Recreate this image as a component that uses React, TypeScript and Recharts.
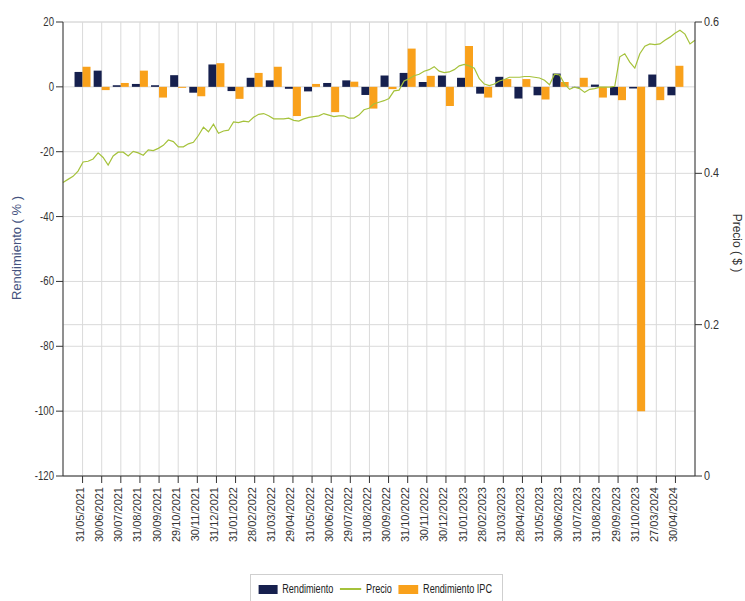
import React from 'react'
import { ComposedChart, Bar, Line, XAxis, YAxis, CartesianGrid } from 'recharts'

const categories = [
  '31/05/2021', '30/06/2021', '30/07/2021', '31/08/2021', '30/09/2021', '29/10/2021',
  '30/11/2021', '31/12/2021', '31/01/2022', '28/02/2022', '31/03/2022', '29/04/2022',
  '31/05/2022', '30/06/2022', '29/07/2022', '31/08/2022', '30/09/2022', '31/10/2022',
  '30/11/2022', '30/12/2022', '31/01/2023', '28/02/2023', '31/03/2023', '28/04/2023',
  '31/05/2023', '30/06/2023', '31/07/2023', '31/08/2023', '29/09/2023', '31/10/2023',
  '27/03/2024', '30/04/2024',
]

const rendimiento = [
  4.6, 5.0, 0.5, 0.9, 0.5, 3.6, -1.8, 6.9, -1.3, 2.8, 2.0, -0.6, -1.4, 1.2, 2.0, -2.5,
  3.5, 4.3, 1.5, 3.5, 2.8, -2.1, 3.1, -3.6, -2.6, 4.1, -0.2, 0.7, -2.6, -0.5, 3.8, -2.6,
]

const rendimientoIPC = [
  6.2, -1.0, 1.2, 5.0, -3.3, -0.3, -2.9, 7.3, -3.7, 4.3, 6.2, -9.0, 0.9, -7.8, 1.6, -6.7,
  -0.7, 11.8, 3.4, -5.9, 12.6, -3.3, 2.4, 2.4, -3.9, 1.5, 2.8, -3.3, -4.1, -100, -4.1, 6.5,
]

// daily price at even steps across the period
const precio = [
  0.388, 0.392, 0.396, 0.403, 0.415, 0.416, 0.419, 0.427, 0.421, 0.411, 0.423, 0.428,
  0.428, 0.423, 0.429, 0.427, 0.424, 0.431, 0.430, 0.433, 0.437, 0.444, 0.442, 0.435,
  0.435, 0.439, 0.441, 0.450, 0.461, 0.455, 0.465, 0.453, 0.456, 0.457, 0.468, 0.467,
  0.469, 0.468, 0.474, 0.478, 0.479, 0.476, 0.472, 0.472, 0.472, 0.473, 0.470, 0.469,
  0.472, 0.474, 0.475, 0.476, 0.479, 0.477, 0.475, 0.476, 0.476, 0.473, 0.473, 0.477,
  0.484, 0.486, 0.492, 0.494, 0.496, 0.499, 0.509, 0.510, 0.522, 0.525, 0.529, 0.531,
  0.535, 0.537, 0.541, 0.535, 0.533, 0.534, 0.537, 0.542, 0.544, 0.542, 0.539, 0.525,
  0.518, 0.516, 0.518, 0.522, 0.524, 0.527, 0.527, 0.527, 0.528, 0.528, 0.527, 0.526,
  0.523, 0.517, 0.531, 0.530, 0.518, 0.511, 0.514, 0.512, 0.507, 0.511, 0.512, 0.514,
  0.514, 0.514, 0.515, 0.554, 0.558, 0.547, 0.539, 0.558, 0.568, 0.571, 0.570, 0.571,
  0.576, 0.580, 0.585, 0.589, 0.584, 0.571, 0.576,
]

const leftTicks = [-120, -100, -80, -60, -40, -20, 0, 20]
const rightTicks = [0, 0.2, 0.4, 0.6]

const NAVY = '#16204e'
const ORANGE = '#f9a11b'
const GREEN = '#a5c23b'
const FONT = "'Liberation Sans', Arial, sans-serif"

const barData = categories.map((c, i) => ({
  fecha: c,
  rend: rendimiento[i],
  ipc: rendimientoIPC[i],
}))
const priceData = precio.map((p, i) => ({ t: i, precio: p }))

function DateTick(props: any) {
  const { x, y, payload } = props
  return (
    <text
      x={x}
      y={y}
      dy={1.5}
      transform={`rotate(-90 ${x} ${y})`}
      textAnchor="end"
      fontSize={11}
      fontFamily={FONT}
      fill="#333"
    >
      {payload.value}
    </text>
  )
}

// the source renders its value labels narrow, squeeze them a bit
function NarrowTick(props: any) {
  const { x, y, payload, textAnchor, sx } = props
  return (
    <text
      x={x}
      y={y}
      dy={4}
      textAnchor={textAnchor}
      transform={`translate(${x} 0) scale(${sx} 1) translate(${-x} 0)`}
      fontSize={12}
      fontFamily={FONT}
      fill="#333"
    >
      {payload.value}
    </text>
  )
}

function Legend() {
  const item = { display: 'flex', alignItems: 'center', marginRight: 9 }
  return (
    <div
      style={{
        position: 'absolute',
        left: 250,
        top: 574,
        width: 253,
        height: 30,
        border: '1px solid #cfcfcf',
        boxSizing: 'border-box',
        overflow: 'hidden',
      }}
    >
      <div
        style={{
          display: 'flex',
          alignItems: 'center',
          height: 28,
          paddingLeft: 10,
          whiteSpace: 'nowrap',
          transform: 'scaleX(0.76)',
          transformOrigin: 'left center',
          fontFamily: FONT,
          fontSize: 12,
          color: '#222',
        }}
      >
        <div style={item}>
          <span style={{ width: 25, height: 9, background: NAVY, marginRight: 6 }} />
          Rendimiento
        </div>
        <div style={item}>
          <span style={{ width: 28, height: 2, background: GREEN, marginRight: 6 }} />
          Precio
        </div>
        <div style={item}>
          <span style={{ width: 26, height: 9, background: ORANGE, marginRight: 6 }} />
          Rendimiento IPC
        </div>
      </div>
    </div>
  )
}

export default function App() {
  return (
    <div style={{ position: 'absolute', left: 0, top: 0, width: 745, height: 601, background: '#fff' }}>
      <ComposedChart
        width={745}
        height={601}
        data={barData}
        margin={{ top: 22, right: 0, left: 0, bottom: 0 }}
        barCategoryGap="8%"
        barGap={0}
      >
        <CartesianGrid xAxisId="cat" yAxisId="left" stroke="#dadada" />
        <CartesianGrid xAxisId="cat" yAxisId="right" vertical={false} stroke="#dadada" />
        <XAxis
          xAxisId="cat"
          dataKey="fecha"
          height={125}
          interval={0}
          padding={{ left: 10, right: 10 }}
          tick={<DateTick />}
          tickSize={7}
          tickMargin={4}
          stroke="#333"
        />
        <XAxis xAxisId="p" type="number" dataKey="t" domain={[0, precio.length - 1]} hide />
        <YAxis
          yAxisId="left"
          width={63}
          domain={[-120, 20]}
          ticks={leftTicks}
          interval={0}
          tickSize={7}
          tickMargin={2}
          stroke="#333"
          tick={<NarrowTick sx={0.8} />}
          label={() => (
            <text
              x={16}
              y={248}
              transform="rotate(-90 16 248)"
              textAnchor="middle"
              dominantBaseline="central"
              fontSize={13}
              fontFamily={FONT}
              fill="#44527e"
            >
              Rendimiento ( % )
            </text>
          )}
        />
        <YAxis
          yAxisId="right"
          orientation="right"
          width={50}
          domain={[0, 0.6]}
          ticks={rightTicks}
          interval={0}
          tickSize={7}
          tickMargin={2}
          stroke="#333"
          tick={<NarrowTick sx={0.9} />}
          label={() => (
            <text
              x={737}
              y={243}
              transform="rotate(90 737 243)"
              textAnchor="middle"
              dominantBaseline="central"
              fontSize={12}
              fontFamily={FONT}
              fill="#333"
            >
              Precio ( $ )
            </text>
          )}
        />
        <Bar xAxisId="cat" yAxisId="left" dataKey="rend" name="Rendimiento" fill={NAVY} isAnimationActive={false} />
        <Bar xAxisId="cat" yAxisId="left" dataKey="ipc" name="Rendimiento IPC" fill={ORANGE} isAnimationActive={false} />
        <Line
          xAxisId="p"
          yAxisId="right"
          data={priceData}
          dataKey="precio"
          name="Precio"
          stroke={GREEN}
          strokeWidth={1.2}
          dot={false}
          isAnimationActive={false}
        />
      </ComposedChart>
      <Legend />
    </div>
  )
}
